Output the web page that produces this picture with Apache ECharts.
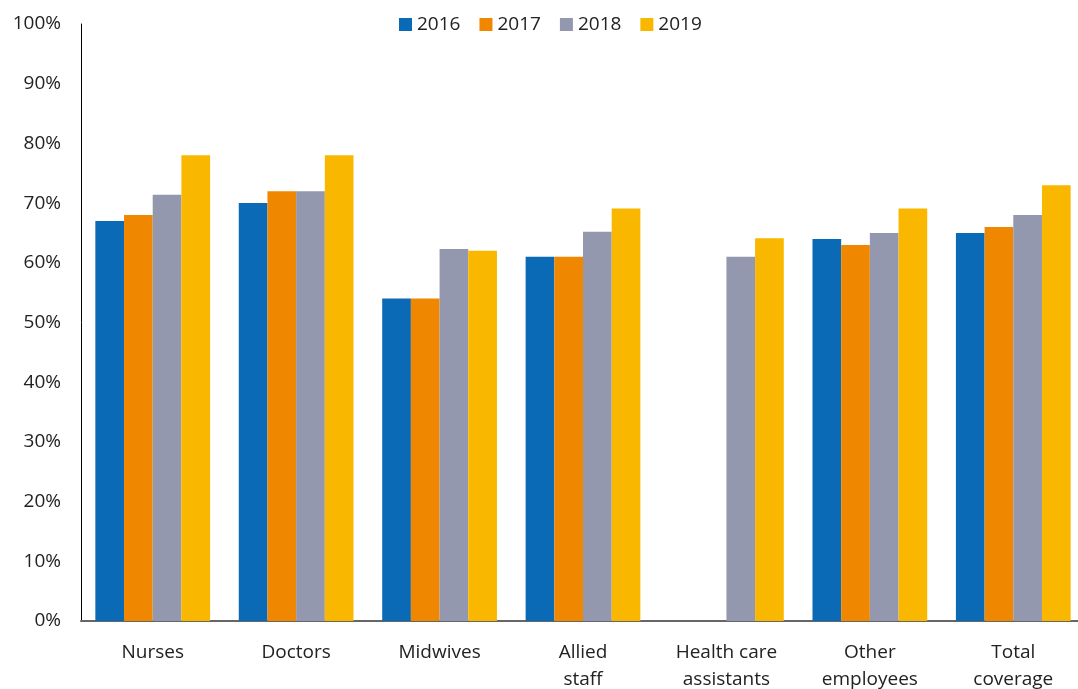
<!DOCTYPE html>
<html>
<head>
<meta charset="utf-8">
<script src="https://cdn.jsdelivr.net/npm/echarts@6/dist/echarts.min.js"></script>
<style>
  html, body { margin: 0; padding: 0; background: #fff; }
  #chart { width: 1078px; height: 689px; }
</style>
</head>
<body>
<div id="chart"></div>
<script>
// data
var categories = ['Nurses', 'Doctors', 'Midwives', 'Allied\nstaff', 'Health care\nassistants', 'Other\nemployees', 'Total\ncoverage'];
var years = ['2016', '2017', '2018', '2019'];
var v2016 = [67, 70, 54, 61, null, 64, 65];
var v2017 = [68, 72, 54, 61, null, 63, 66];
var v2018 = [71.4, 72, 62.3, 65.2, 61, 65, 68];
var v2019 = [78, 78, 62, 69.1, 64.1, 69.1, 73];
var colors = ['#0b6ab6', '#f08700', '#9498ae', '#fab700'];

var chart = echarts.init(document.getElementById('chart'));
var font = '"Open Sans", "DejaVu Sans", sans-serif';

var seriesData = [v2016, v2017, v2018, v2019];
var series = years.map(function (y, i) {
  return {
    name: y,
    type: 'bar',
    data: seriesData[i],
    barGap: '0%',
    barCategoryGap: '20%',
    itemStyle: { color: colors[i] }
  };
});

chart.setOption({
  animation: false,
  textStyle: { fontFamily: font },
  legend: {
    top: 10,
    left: 394,
    itemWidth: 13,
    itemHeight: 13,
    itemGap: 19,
    icon: 'rect',
    textStyle: { fontSize: 19, color: '#222', fontFamily: font },
    data: years
  },
  grid: { left: 81, top: 24, width: 1004, bottom: 68, outerBoundsMode: 'none', containLabel: false },
  xAxis: {
    type: 'category',
    data: categories,
    axisLine: { lineStyle: { color: '#666', width: 2 } },
    axisTick: { show: false },
    axisLabel: { fontSize: 19, color: '#222', margin: 18, lineHeight: 27, interval: 0 }
  },
  yAxis: {
    type: 'value',
    min: 0,
    max: 100,
    interval: 10,
    axisLine: { show: true, lineStyle: { color: '#000', width: 1 } },
    axisTick: { show: false },
    splitLine: { show: false },
    axisLabel: { fontSize: 19, color: '#222', margin: 20, formatter: '{value}%' }
  },
  series: series
});
</script>
</body>
</html>
